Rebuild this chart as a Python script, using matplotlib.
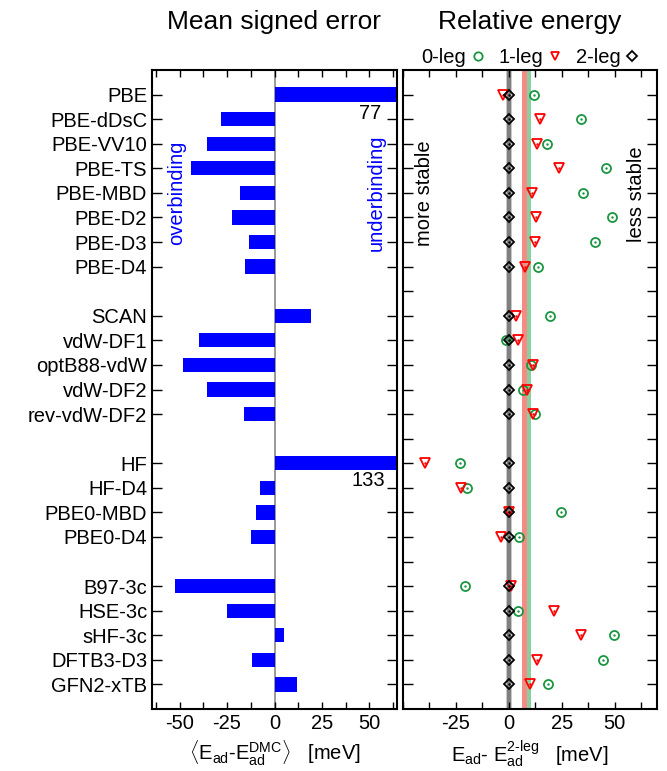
import numpy as np
import matplotlib
matplotlib.use("Agg")
import matplotlib.pyplot as plt
from matplotlib.lines import Line2D
from matplotlib.ticker import MultipleLocator

plt.rcParams['font.family'] = ['Liberation Sans', 'DejaVu Sans']
plt.rcParams['mathtext.fontset'] = 'custom'
plt.rcParams['mathtext.rm'] = 'Liberation Sans'
plt.rcParams['mathtext.it'] = 'Liberation Sans:italic'
plt.rcParams['axes.unicode_minus'] = False

nan = np.nan
# ---- data (gaps between groups are empty labels / NaN) ----
methods = ['PBE', 'PBE-dDsC', 'PBE-VV10', 'PBE-TS', 'PBE-MBD', 'PBE-D2', 'PBE-D3', 'PBE-D4', '',
           'SCAN', 'vdW-DF1', 'optB88-vdW', 'vdW-DF2', 'rev-vdW-DF2', '',
           'HF', 'HF-D4', 'PBE0-MBD', 'PBE0-D4', '',
           'B97-3c', 'HSE-3c', 'sHF-3c', 'DFTB3-D3', 'GFN2-xTB']
mse = [77, -28.1, -35.3, -43.9, -18.1, -22.3, -13.5, -15.6, nan,
       19.3, -40.0, -48.2, -35.3, -15.8, nan,
       133, -7.4, -9.6, -12.6, nan,
       -52.5, -25.1, 4.9, -12.1, 11.8]
leg0 = [12.0, 34.1, 17.9, 45.7, 34.9, 48.9, 40.8, 13.7, nan,
        19.4, -1.4, 10.4, 6.6, 12.2, nan,
        -22.9, -19.8, 24.6, 4.7, nan,
        -20.7, 4.3, 49.6, 44.6, 18.3]
leg1 = [-2.7, 14.5, 13.1, 23.7, 11.1, 12.8, 12.5, 7.7, nan,
        3.2, 4.1, 11.5, 8.7, 11.4, nan,
        -39.7, -22.4, 0.0, -3.5, nan,
        0.9, 21.2, 34.1, 13.3, 10.1]
leg2 = [0, 0, 0, 0, 0, 0, 0, 0, nan,
        0, 0, 0, 0, 0, nan,
        0, 0, 0, 0, nan,
        0, 0, 0, 0, 0]
band_1leg = (6.0, 8.4)
band_0leg = (8.4, 10.3)

W, H = 667, 771
fig = plt.figure(figsize=(W/100, H/100), dpi=100)
axL = fig.add_axes([152/W, 1-709/H, 245/W, 639/H])
axR = fig.add_axes([403/W, 1-709/H, 254/W, 639/H])

pos = np.arange(len(methods))
mse_a = np.array(mse, dtype=float)
valid = ~np.isnan(mse_a)

FS = 14.5
BLUE = '#0000ff'
GREEN = '#1a9641'
RED = '#ff0000'

# ---- left panel ----
axL.axvline(0, color='#888888', lw=1.2, zorder=1)
axL.barh(pos[valid], mse_a[valid], height=0.58, color=BLUE, zorder=2)
axL.set_xlim(-64.5, 64.5)
axL.set_ylim(len(methods), -1)
axL.set_yticks(pos[valid])
axL.set_yticklabels([m for m, v in zip(methods, valid) if v], fontsize=FS)
axL.xaxis.set_major_locator(MultipleLocator(25))
axL.xaxis.set_minor_locator(MultipleLocator(12.5))
axL.tick_params(axis='both', which='both', direction='in', top=True, right=True,
                length=5, width=1, labelsize=FS)
axL.tick_params(axis='y', length=7)
axL.text(56, 0.75, '77', ha='right', va='center', fontsize=FS)
axL.text(58, 15.72, '133', ha='right', va='center', fontsize=FS)
axL.text(-51.7, 4.0, 'overbinding', rotation=90, ha='center', va='center', color=BLUE, fontsize=FS)
axL.text(53.5, 4.0, 'underbinding', rotation=90, ha='center', va='center', color=BLUE, fontsize=FS)
axL.set_xlabel(r'$\langle$E$_{\rm ad}$-E$_{\rm ad}^{\rm DMC}$$\rangle$   [meV]', fontsize=FS, labelpad=4)

# ---- right panel ----
axR.axvspan(-1.5, 1.5, color='#c8c8c8', lw=0, zorder=1)
axR.axvspan(-0.9, 0.9, color='#808080', lw=0, zorder=1)
axR.axvspan(*band_1leg, color='#f48b84', lw=0, zorder=1)
axR.axvspan(*band_0leg, color='#8ccf9e', lw=0, zorder=1)

axR.plot(leg0, pos, ls='none', marker='o', ms=6.5, mfc='none', mec=GREEN, mew=1.3, zorder=3)
axR.plot(leg0, pos, ls='none', marker='.', ms=1.5, color=GREEN, zorder=3)
axR.plot(leg1, pos, ls='none', marker='v', ms=7, mfc='none', mec=RED, mew=1.3, zorder=4)
axR.plot(leg1, pos, ls='none', marker='.', ms=1.5, color=RED, zorder=4)
axR.plot(leg2, pos, ls='none', marker='D', ms=5.5, mfc='none', mec='black', mew=1.3, zorder=5)
axR.plot(leg2, pos, ls='none', marker='.', ms=1.5, color='black', zorder=5)

axR.set_xlim(-50, 70)
axR.set_ylim(len(methods), -1)
axR.set_yticks(pos)
axR.set_yticklabels([])
axR.set_xticks([-25, 0, 25, 50])
axR.xaxis.set_minor_locator(MultipleLocator(12.5))
axR.tick_params(axis='both', which='both', direction='in', top=True, right=True,
                length=5, width=1, labelsize=FS)
axR.tick_params(axis='y', length=7)
axR.text(-39.9, 4.0, 'more stable', rotation=90, ha='center', va='center', fontsize=FS)
axR.text(60.5, 4.05, 'less stable', rotation=90, ha='center', va='center', fontsize=FS)
axR.set_xlabel(r'E$_{\rm ad}$- E$_{\rm ad}^{\rm 2\text{-}leg}$   [meV]', fontsize=FS, labelpad=4)

for ax in (axL, axR):
    for s in ax.spines.values():
        s.set_linewidth(1.5)

handles = [
    Line2D([], [], ls='none', marker='o', ms=6, mfc='none', mec=GREEN, mew=1.3),
    Line2D([], [], ls='none', marker='v', ms=6, mfc='none', mec=RED, mew=1.3),
    Line2D([], [], ls='none', marker='D', ms=5, mfc='none', mec='black', mew=1.3),
]
axR.legend(handles, ['0-leg', '1-leg', '2-leg'], loc='lower center', bbox_to_anchor=(0.5, 1.0),
           ncol=3, frameon=False, markerfirst=False, handlelength=0.6, handletextpad=0.3,
           columnspacing=0.7, fontsize=FS, borderaxespad=0.05, borderpad=0.1)

fig.text(274/W, 1-22/H, 'Mean signed error', ha='center', va='center', fontsize=19)
fig.text(530/W, 1-22/H, 'Relative energy', ha='center', va='center', fontsize=19)

fig.savefig('out.png', dpi=100)
